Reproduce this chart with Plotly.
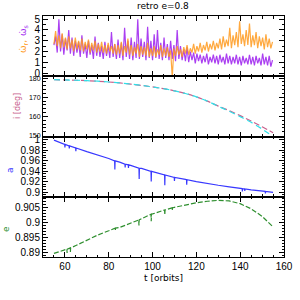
import numpy as np
import plotly.graph_objects as go
from plotly.subplots import make_subplots

# ---------------- data ----------------
# top panel: time grid (every 0.75 orbit from 55)
t_top = np.arange(134) * 0.75 + 55.0
w_s = [2.6, 3.4, 1.9, 5.0, 2.0, 3.6, 1.7, 3.2, 2.1, 4.0,
       1.8, 3.3, 1.6, 3.0, 1.9, 2.9, 1.5, 3.5, 1.8, 2.7,
       1.4, 3.0, 1.7, 2.6, 1.3, 3.4, 1.6, 2.8, 1.5, 2.5,
       1.3, 2.9, 1.6, 2.6, 1.4, 3.8, 1.5, 2.7, 1.3, 3.1,
       1.4, 2.8, 1.2, 4.2, 1.5, 3.0, 1.3, 3.3, 1.2, 2.9,
       1.4, 5.0, 1.3, 3.2, 1.5, 2.9, 1.2, 4.3, 1.4, 3.0,
       1.2, 3.6, 1.4, 4.0, 1.3, 2.8, 1.2, 3.3, 1.4, 2.7,
       1.2, 3.0, 1.3, 2.6, 1.1, 4.0, 1.3, 2.5, 1.2, 2.2,
       1.1, 2.4, 1.0, 2.0, 1.2, 1.9, 0.9, 1.8, 1.1, 1.7,
       0.9, 1.6, 1.0, 1.8, 0.8, 1.5, 1.0, 1.7, 0.9, 1.6,
       0.8, 1.7, 1.0, 1.5, 0.8, 1.8, 0.9, 1.6, 0.8, 1.5,
       0.9, 1.7, 0.8, 1.5, 0.7, 1.6, 0.9, 1.4, 0.8, 1.7,
       0.8, 1.5, 0.7, 1.6, 0.9, 1.4, 0.7, 1.8, 0.8, 1.5,
       0.7, 1.6, 0.6, 1.2]
w_r = [2.7, 3.9, 2.5, 3.5, 2.3, 3.7, 2.4, 3.3, 2.2, 3.4,
       2.3, 3.1, 2.0, 3.3, 2.2, 3.0, 2.1, 3.2, 2.0, 2.9,
       2.2, 3.1, 1.9, 2.8, 2.1, 3.0, 1.9, 2.7, 2.0, 2.9,
       1.9, 2.6, 1.8, 2.8, 2.0, 2.5, 1.8, 2.7, 1.7, 2.6,
       1.8, 2.9, 1.6, 2.5, 1.9, 3.2, 1.7, 2.6, 1.6, 2.4,
       1.8, 2.7, 1.5, 2.5, 1.7, 2.4, 1.6, 2.8, 1.5, 2.3,
       1.6, 2.5, 1.5, 2.2, 1.7, 2.6, 1.5, 2.3, 1.6, 2.4,
       1.5, 2.1, -0.4, 2.3, 1.6, 2.5, 1.7, 2.2, 1.5, 2.4,
       1.8, 2.6, 1.7, 2.3, 1.9, 2.7, 1.8, 2.5, 2.0, 2.8,
       1.9, 2.6, 2.1, 2.9, 2.0, 2.7, 2.2, 3.0, 2.1, 2.8,
       2.3, 3.2, 2.2, 3.4, 2.4, 3.1, 2.5, 4.2, 2.3, 3.5,
       2.6, 3.8, 2.4, 4.8, 2.7, 3.6, 2.5, 4.0, 2.6, 4.6,
       2.4, 3.5, 2.6, 3.8, 2.3, 3.4, 2.5, 3.3, 2.2, 3.6,
       2.4, 3.2, 2.3, 2.9]

# inclination panel
t_i = [55, 60, 65, 70, 75, 80, 85, 90, 95, 100, 105,
       110, 115, 120, 125, 130, 135, 140, 145, 150, 155]
i_pink = [179.2, 179.1, 178.9, 178.7, 178.4, 178.0, 177.5, 176.9, 176.2, 175.4, 174.5,
          173.4, 172.0, 170.2, 168.0, 165.4, 163.0, 160.4, 157.6, 154.6, 151.5]
i_cyan = [179.2, 179.1, 178.9, 178.7, 178.4, 178.0, 177.5, 176.9, 176.2, 175.4, 174.5,
          173.4, 172.0, 170.2, 168.0, 165.3, 162.7, 159.9, 156.9, 153.4, 149.4]

# semi-major axis panel
a_t = [55, 58, 59.9, 60, 60.1, 61.9, 62, 62.1, 64.9, 65, 65.1, 70, 75, 80,
       82.7, 82.8, 82.9, 85, 87.4, 87.5, 87.6, 88.9, 89, 89.1, 90,
       93.8, 93.9, 94.0, 95, 99.3, 99.4, 99.5, 100, 105, 105.5, 105.6, 105.7,
       109.9, 110, 110.1, 115, 115.5, 115.6, 115.7, 120, 125, 130, 135,
       140, 140.9, 141, 141.1, 142.0, 142.1, 142.2, 145, 150, 151.4, 151.5, 151.6, 155]
a_v = [0.999, 0.994, 0.991, 0.985, 0.991, 0.988, 0.983, 0.988, 0.984, 0.978, 0.984, 0.977, 0.971, 0.964,
       0.9595, 0.943, 0.9595, 0.957, 0.953, 0.947, 0.953, 0.952, 0.946, 0.952, 0.951,
       0.9455, 0.925, 0.9455, 0.945, 0.9395, 0.920, 0.9395, 0.939, 0.933, 0.9325, 0.913, 0.9325,
       0.928, 0.921, 0.928, 0.924, 0.9235, 0.914, 0.9235, 0.920, 0.916, 0.913, 0.910,
       0.907, 0.9065, 0.901, 0.9065, 0.906, 0.902, 0.906, 0.904, 0.902, 0.9013, 0.8975, 0.9013, 0.8995]

# eccentricity panel
e_t = [55, 60, 60.9, 61, 61.1, 62.4, 62.5, 62.6, 65, 70, 75, 80, 82.9, 83, 83.1, 85, 90,
       93.7, 93.8, 93.9, 95, 99.3, 99.4, 99.5, 100, 105, 105.5, 105.6, 105.7,
       108.9, 109, 109.1, 110, 115, 120, 125, 130, 135, 140, 145, 150, 155]
e_v = [0.8897, 0.8908, 0.8911, 0.8898, 0.8911, 0.8915, 0.8902, 0.8915, 0.8923, 0.8940, 0.8958, 0.8972,
       0.8981, 0.8973, 0.8981, 0.8983, 0.8998,
       0.9008, 0.8990, 0.9008, 0.9012, 0.9027, 0.9004, 0.9027, 0.9028, 0.9040, 0.9041, 0.9025, 0.9041,
       0.9048, 0.9040, 0.9048, 0.9050, 0.9058, 0.9065, 0.9070, 0.9073, 0.9071, 0.9062, 0.9045, 0.9020, 0.8985]

title_text = "retro e=0.8"
x_title = "t [orbits]"

# ---------------- figure ----------------
fig = make_subplots(rows=4, cols=1, shared_xaxes=True, vertical_spacing=0)

PURPLE = "#a22cf0"
ORANGE = "#ff9a1e"
PINK = "#c8608c"
CYAN = "#30e0e8"
BLUE = "#3838ff"
GREEN = "#2f8f2f"

fig.add_trace(go.Scatter(x=t_top, y=w_s, mode="lines", line=dict(color=PURPLE, width=1.2),
                         opacity=0.9), row=1, col=1)
fig.add_trace(go.Scatter(x=t_top, y=w_r, mode="lines", line=dict(color=ORANGE, width=1.2),
                         opacity=0.85), row=1, col=1)
fig.add_trace(go.Scatter(x=t_i, y=i_pink, mode="lines", line=dict(color=PINK, width=1.2, dash="6px,3px"),
                         line_shape="spline"), row=2, col=1)
fig.add_trace(go.Scatter(x=t_i, y=i_cyan, mode="lines", line=dict(color=CYAN, width=1.2, dash="6px,4px"),
                         line_shape="spline"), row=2, col=1)
fig.add_trace(go.Scatter(x=a_t, y=a_v, mode="lines", line=dict(color=BLUE, width=1.2)), row=3, col=1)
fig.add_trace(go.Scatter(x=e_t, y=e_v, mode="lines", line=dict(color=GREEN, width=1.2, dash="5px,2px")),
              row=4, col=1)

axis_common = dict(showline=True, linecolor="black", linewidth=1, mirror="allticks",
                   ticks="inside", ticklen=5, tickwidth=1, tickcolor="black",
                   showgrid=False, zeroline=False, automargin=False,
                   tickfont=dict(family="Liberation Sans", size=10, color="black"))

for r in range(1, 5):
    fig.update_xaxes(range=[50, 160], tick0=0, dtick=20,
                     minor=dict(dtick=5, ticklen=2.5, ticks="inside", tickcolor="black", showgrid=False),
                     row=r, col=1, **axis_common)

fig.update_yaxes(range=[-0.3, 5.3], dtick=1, tick0=0,
                 minor=dict(dtick=0.5, ticklen=2.5, ticks="inside", tickcolor="black", showgrid=False),
                 row=1, col=1, **axis_common)
ax2 = dict(axis_common)
ax2["tickfont"] = dict(family="Liberation Sans", size=7, color="black")
fig.update_yaxes(range=[149.5, 181], dtick=10, tick0=150,
                 minor=dict(dtick=2, ticklen=2.5, ticks="inside", tickcolor="black", showgrid=False),
                 row=2, col=1, **ax2)
fig.update_yaxes(range=[0.891, 1.006], dtick=0.02, tick0=0.9,
                 minor=dict(dtick=0.005, ticklen=2.5, ticks="inside", tickcolor="black", showgrid=False),
                 row=3, col=1, **axis_common)
fig.update_yaxes(range=[0.8885, 0.9085], dtick=0.005, tick0=0.89,
                 minor=dict(dtick=0.001, ticklen=2.5, ticks="inside", tickcolor="black", showgrid=False),
                 row=4, col=1, **axis_common)

# plot-area edges in pixels
L, R, T, B = 43, 16, 16, 43
PW = 300 - L - R
PH = 300 - T - B


def px(x):
    return (x - L) / PW


def py(y):
    return 1 - (y - T) / PH


ann = [
    dict(text="ω̇<sub>s</sub>", x=px(23), y=py(31), color=PURPLE, size=9, angle=-90),
    dict(text="ω̇<sub>r</sub>,", x=px(23), y=py(47), color=ORANGE, size=9, angle=-90),
    dict(text="i [deg]", x=px(17), y=py(106), color=PINK, size=8, angle=-90),
    dict(text="a", x=px(10), y=py(170), color=BLUE, size=9, angle=-90),
    dict(text="e", x=px(6), y=py(229), color=GREEN, size=9, angle=-90),
    dict(text=title_text, x=px(163), y=py(6), color="black", size=9, angle=0),
    dict(text=x_title, x=px(163), y=py(278), color="black", size=9, angle=0),
]
for a in ann:
    fig.add_annotation(text=a["text"], x=a["x"], y=a["y"], xref="paper", yref="paper",
                       showarrow=False, textangle=a["angle"], xanchor="center", yanchor="middle",
                       font=dict(family="DejaVu Sans", size=a["size"], color=a["color"]))

fig.update_layout(width=300, height=300,
                  margin=dict(l=L, r=R, t=T, b=B),
                  showlegend=False, plot_bgcolor="white", paper_bgcolor="white")

fig.write_html("out.html", config={"displayModeBar": False},
               post_script="document.body.style.margin='0';document.body.style.overflow='hidden';")
